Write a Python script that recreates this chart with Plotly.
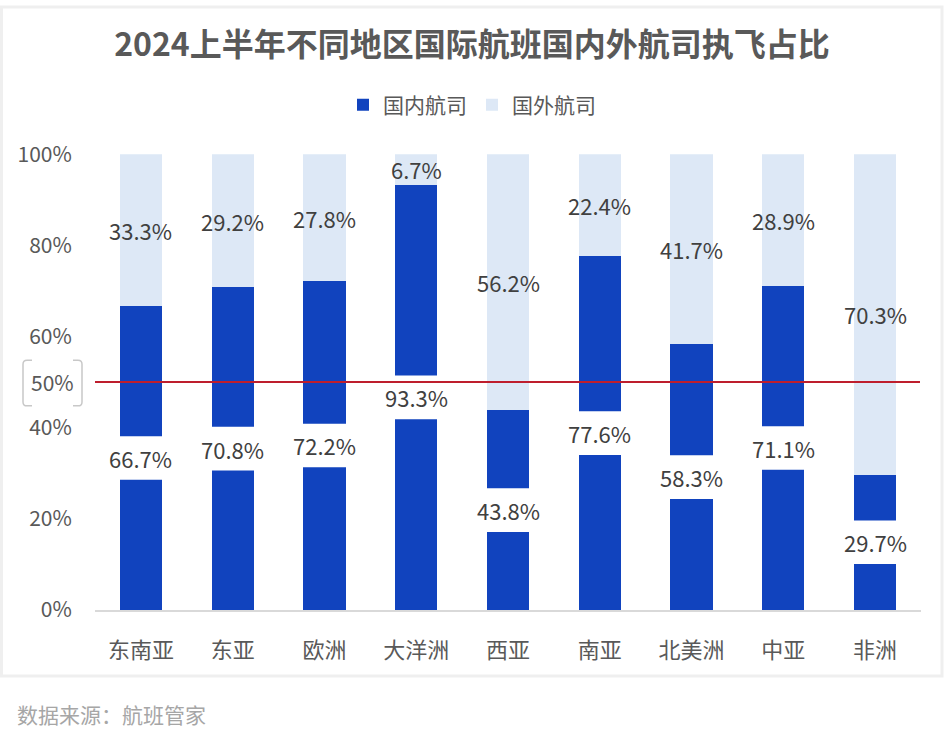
import plotly.graph_objects as go

categories = ["东南亚", "东亚", "欧洲", "大洋洲", "西亚", "南亚", "北美洲", "中亚", "非洲"]
domestic = [66.7, 70.8, 72.2, 93.3, 43.8, 77.6, 58.3, 71.1, 29.7]
foreign = [33.3, 29.2, 27.8, 6.7, 56.2, 22.4, 41.7, 28.9, 70.3]
series_names = ["国内航司", "国外航司"]
ytick_vals = [0, 0.2, 0.4, 0.6, 0.8, 1.0]
ref_value = 0.5

W, H = 944, 742
ML, MR, MT, MB = 95, 23, 150, 132
PW, PH = W - ML - MR, H - MT - MB

def px(x):
    return (x - ML) / PW

def py(y):
    return (H - MB - y) / PH

FONT = "Noto Sans CJK SC, Noto Sans, sans-serif"
DARK = "#1143BE"
LIGHT = "#DDE8F6"
GREY = "#595959"
LABEL = "#404040"

fig = go.Figure()
fig.add_trace(go.Bar(x=categories, y=[v / 100 for v in domestic], name=series_names[0],
                     marker=dict(color=DARK, line=dict(width=0)), hoverinfo="skip"))
fig.add_trace(go.Bar(x=categories, y=[v / 100 for v in foreign], name=series_names[1],
                     marker=dict(color=LIGHT, line=dict(width=0)), hoverinfo="skip"))

shapes = []
annotations = []
box_h = 44 / PH
box_hw = 38 / (PW / len(categories))
for i, (d, f) in enumerate(zip(domestic, foreign)):
    yc = d / 200
    shapes.append(dict(type="rect", xref="x", yref="y", x0=i - box_hw, x1=i + box_hw,
                       y0=yc - box_h / 2, y1=yc + box_h / 2, fillcolor="white",
                       line=dict(width=0), layer="above"))
    annotations.append(dict(x=categories[i], y=yc, xref="x", yref="y", text=f"{d:.1f}%",
                            showarrow=False,
                            font=dict(size=22, color=LABEL, family=FONT)))
    annotations.append(dict(x=categories[i], y=(d + f / 2) / 100, xref="x", yref="y",
                            text=f"{f:.1f}%", showarrow=False,
                            font=dict(size=22, color=LABEL, family=FONT)))

# red reference line
shapes.append(dict(type="line", xref="paper", yref="y", x0=0, x1=px(920), y0=ref_value, y1=ref_value,
                   line=dict(color="#BE1E2D", width=2), layer="above"))

# bracket around 50% label
def bracket(xo, xi, y0, y1, r=4):
    s = 1 if xi > xo else -1
    pts = (f"M{px(xi)},{py(y0)} L{px(xo + s * r)},{py(y0)} Q{px(xo)},{py(y0)} {px(xo)},{py(y0 + r)} "
           f"L{px(xo)},{py(y1 - r)} Q{px(xo)},{py(y1)} {px(xo + s * r)},{py(y1)} L{px(xi)},{py(y1)}")
    return dict(type="path", xref="paper", yref="paper", path=pts,
                line=dict(color="#C8C8C8", width=1.5), layer="above")

shapes.append(bracket(23, 32, 358, 404))
shapes.append(bracket(82, 73, 358, 404))

annotations.append(dict(x=px(52), y=ref_value, xref="paper", yref="y", text="50%", showarrow=False,
                        xanchor="center", yanchor="middle",
                        font=dict(size=21, color=GREY, family=FONT)))

# outer frame
shapes.append(dict(type="rect", xref="paper", yref="paper", x0=px(1.5), x1=px(942), y0=py(676.5), y1=py(1.5),
                   line=dict(color="#EFEFEF", width=3), fillcolor="rgba(0,0,0,0)", layer="below"))

annotations.append(dict(x=px(15), y=py(715), xref="paper", yref="paper", text="数据来源：航班管家",
                        showarrow=False, xanchor="left", yanchor="middle",
                        font=dict(size=21, color="#A6A6A6", family=FONT)))

fig.update_layout(
    width=W, height=H,
    margin=dict(l=ML, r=MR, t=MT, b=MB),
    paper_bgcolor="white", plot_bgcolor="white",
    barmode="stack", bargap=0.54,
    font=dict(family=FONT, color=GREY),
    title=dict(text="<b>2024上半年不同地区国际航班国内外航司执飞占比</b>", x=0.5, xref="container",
               xanchor="center", y=1 - 45 / H, yref="container", yanchor="middle",
               font=dict(size=32, color=GREY, family=FONT)),
    legend=dict(orientation="h", x=0.5, xanchor="center", xref="container",
                y=1 - 105 / H, yref="container", yanchor="middle",
                font=dict(size=21, color=GREY, family=FONT), traceorder="normal",
                itemclick=False),
    xaxis=dict(showgrid=False, showline=True, linecolor="#D9D9D9", linewidth=1.5,
               ticks="outside", ticklen=20, tickcolor="rgba(0,0,0,0)",
               tickfont=dict(size=22, color=GREY, family=FONT), range=[-0.5, len(categories) - 0.5]),
    yaxis=dict(range=[0, 1], tickvals=ytick_vals, tickformat=".0%", showgrid=False, zeroline=False,
               showline=False, ticks="outside", ticklen=18, tickcolor="rgba(0,0,0,0)",
               tickfont=dict(size=21, color=GREY, family=FONT)),
    shapes=shapes, annotations=annotations,
)

fig.write_html("out.html", config={"displayModeBar": False},
               post_script="document.body.style.margin='0';document.body.style.padding='0';")
